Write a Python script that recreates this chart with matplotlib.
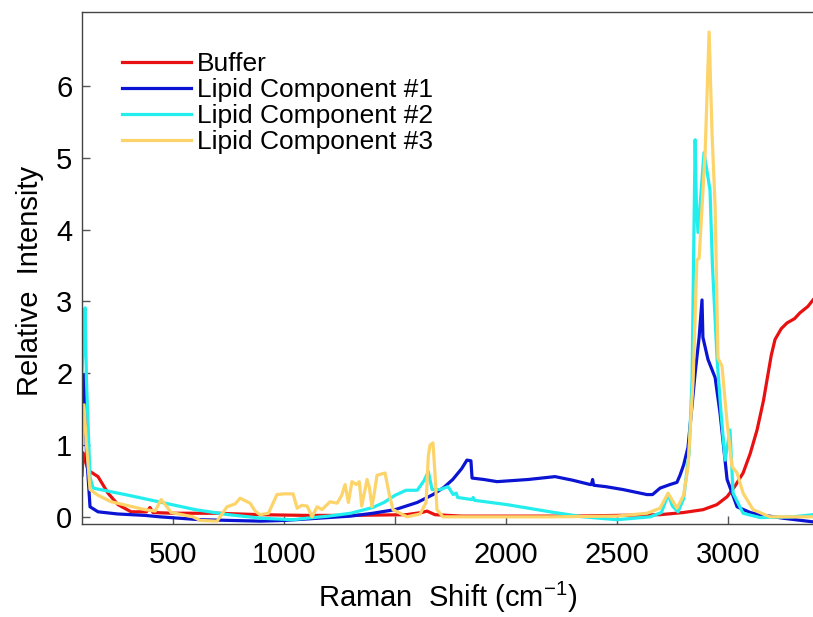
import numpy as np
import matplotlib
matplotlib.use("Agg")
import matplotlib.pyplot as plt

plt.rcParams['font.family'] = ['Liberation Sans', 'DejaVu Sans']
plt.rcParams['mathtext.default'] = 'regular'

# Raman spectra, values
buffer_x = [90, 95, 117, 162, 207, 252, 311, 380, 396, 410, 500, 700, 892, 1100, 1300,
            1550, 1620, 1644, 1680, 1800, 2000, 2300, 2500, 2694, 2800, 2888, 2950,
            2996, 3030, 3068, 3100, 3131, 3160, 3176, 3195, 3212, 3240, 3266, 3300,
            3324, 3360, 3383]
buffer_y = [0.58, 0.89, 0.65, 0.56, 0.33, 0.17, 0.07, 0.07, 0.13, 0.06, 0.05, 0.05,
            0.03, 0.02, 0.02, 0.03, 0.06, 0.08, 0.03, 0.01, 0.01, 0.01, 0.02, 0.03,
            0.06, 0.10, 0.17, 0.28, 0.42, 0.61, 0.88, 1.21, 1.62, 1.91, 2.25, 2.47,
            2.62, 2.70, 2.76, 2.84, 2.93, 3.02]

lipid1_x = [90, 99, 110, 126, 162, 250, 374, 441, 622, 892, 1000, 1100, 1200, 1300,
            1400, 1500, 1600, 1671, 1720, 1760, 1800, 1824, 1842, 1847, 1900, 1960,
            2100, 2221, 2300, 2379, 2385, 2390, 2395, 2450, 2527, 2635, 2660, 2694,
            2739, 2770, 2784, 2800, 2820, 2852, 2870, 2883, 2887, 2910, 2942, 2964,
            2996, 3041, 3100, 3144, 3250, 3383]
lipid1_y = [1.46, 1.98, 0.9, 0.14, 0.07, 0.04, 0.02, 0.0, -0.04, -0.06, -0.05, -0.03,
            -0.01, 0.01, 0.05, 0.10, 0.20, 0.31, 0.41, 0.52, 0.67, 0.79, 0.78, 0.54,
            0.52, 0.49, 0.52, 0.56, 0.51, 0.45, 0.45, 0.52, 0.44, 0.42, 0.38, 0.31,
            0.31, 0.40, 0.45, 0.48, 0.58, 0.72, 0.97, 2.0, 2.5, 3.02, 2.5, 2.19, 1.94,
            1.45, 0.52, 0.14, 0.06, 0.03, -0.02, -0.07]

lipid2_x = [90, 99, 104, 110, 126, 140, 300, 450, 600, 750, 900, 1040, 1100, 1200,
            1300, 1400, 1450, 1500, 1550, 1600, 1630, 1650, 1667, 1703, 1739, 1762,
            1776, 1782, 1847, 1852, 1858, 2005, 2198, 2347, 2500, 2649, 2700, 2730,
            2750, 2775, 2800, 2825, 2838, 2852, 2858, 2865, 2892, 2919, 2930, 2951,
            2970, 2987, 3009, 3023, 3068, 3144, 3293, 3383]
lipid2_y = [2.02, 2.6, 2.91, 1.9, 0.55, 0.40, 0.30, 0.20, 0.10, 0.03, -0.02, -0.04,
            -0.02, 0.01, 0.05, 0.13, 0.20, 0.30, 0.37, 0.37, 0.50, 0.63, 0.38, 0.38,
            0.42, 0.31, 0.33, 0.27, 0.24, 0.27, 0.23, 0.17, 0.07, 0.0, -0.04, 0.0,
            0.06, 0.31, 0.15, 0.07, 0.25, 0.9, 1.9, 5.25, 4.3, 3.96, 5.07, 4.55, 3.5,
            2.19, 1.4, 0.79, 1.21, 0.33, 0.05, -0.01, 0.0, 0.03]

lipid3_x = [90, 99, 110, 126, 162, 221, 374, 420, 446, 470, 491, 590, 622, 698, 743,
            780, 802, 847, 870, 892, 930, 968, 1000, 1041, 1059, 1080, 1104, 1126,
            1149, 1171, 1207, 1239, 1260, 1275, 1290, 1306, 1325, 1339, 1350, 1374,
            1385, 1396, 1405, 1419, 1455, 1475, 1491, 1554, 1613, 1640, 1650, 1658,
            1671, 1680, 1689, 1716, 1900, 2200, 2500, 2635, 2694, 2730, 2770, 2800,
            2820, 2843, 2860, 2870, 2897, 2915, 2928, 2942, 2955, 2973, 2996, 3018,
            3041, 3068, 3113, 3189, 3300, 3383]
lipid3_y = [1.03, 1.56, 1.0, 0.38, 0.30, 0.21, 0.10, 0.08, 0.24, 0.15, 0.06, 0.0,
            -0.05, -0.06, 0.14, 0.18, 0.26, 0.19, 0.08, 0.03, 0.05, 0.31, 0.32, 0.32,
            0.12, 0.16, 0.15, 0.0, 0.14, 0.10, 0.21, 0.19, 0.30, 0.45, 0.20, 0.49,
            0.45, 0.49, 0.15, 0.52, 0.40, 0.14, 0.30, 0.58, 0.61, 0.30, 0.10, 0.0,
            0.04, 0.20, 0.85, 1.0, 1.03, 0.6, 0.10, 0.0, 0.0, 0.0, 0.01, 0.05, 0.12,
            0.33, 0.12, 0.3, 0.7, 1.9, 3.58, 3.6, 5.07, 6.75, 5.35, 4.32, 2.21, 2.1,
            1.31, 0.7, 0.61, 0.33, 0.10, 0.0, 0.0, 0.0]

series_names = ['Buffer', 'Lipid Component #1', 'Lipid Component #2', 'Lipid Component #3']
series_colors = ['#e81010', '#0a14d2', '#22eeee', '#fdd46a']
y_ticks = [0, 1, 2, 3, 4, 5, 6]
x_ticks = [500, 1000, 1500, 2000, 2500, 3000]

fig = plt.figure(figsize=(8.13, 6.17), dpi=100)
ax = fig.add_axes([0.1009, 0.1507, 0.8991, 0.8299])

data = [(buffer_x, buffer_y), (lipid1_x, lipid1_y), (lipid2_x, lipid2_y), (lipid3_x, lipid3_y)]
for (xs, ys), name, col in zip(data, series_names, series_colors):
    ax.plot(xs, ys, color=col, lw=2.3, label=name)

ax.set_xlim(90, 3383)
ax.set_ylim(-0.1, 7.03)
ax.set_xticks(x_ticks)
ax.set_yticks(y_ticks)
ax.tick_params(direction='in', length=6, width=1, color='#555555', labelsize=21)
ax.tick_params(axis='x', pad=12)
ax.tick_params(axis='y', pad=7)
ax.spines['right'].set_visible(False)
for s in ['left', 'top', 'bottom']:
    ax.spines[s].set_color('#444444')
    ax.spines[s].set_linewidth(1)

ax.set_xlabel('Raman  Shift (cm$^{-1}$)', fontsize=21, labelpad=8)
ax.set_ylabel('Relative  Intensity', fontsize=21)
ax.yaxis.set_label_coords(-0.052, 0.475)

ax.legend(loc='upper left', bbox_to_anchor=(0.0547, 0.922), frameon=False, fontsize=19,
          handlelength=2.6, handletextpad=0.25, labelspacing=0.08, borderpad=0,
          borderaxespad=0)

fig.savefig('out.png', dpi=100)
